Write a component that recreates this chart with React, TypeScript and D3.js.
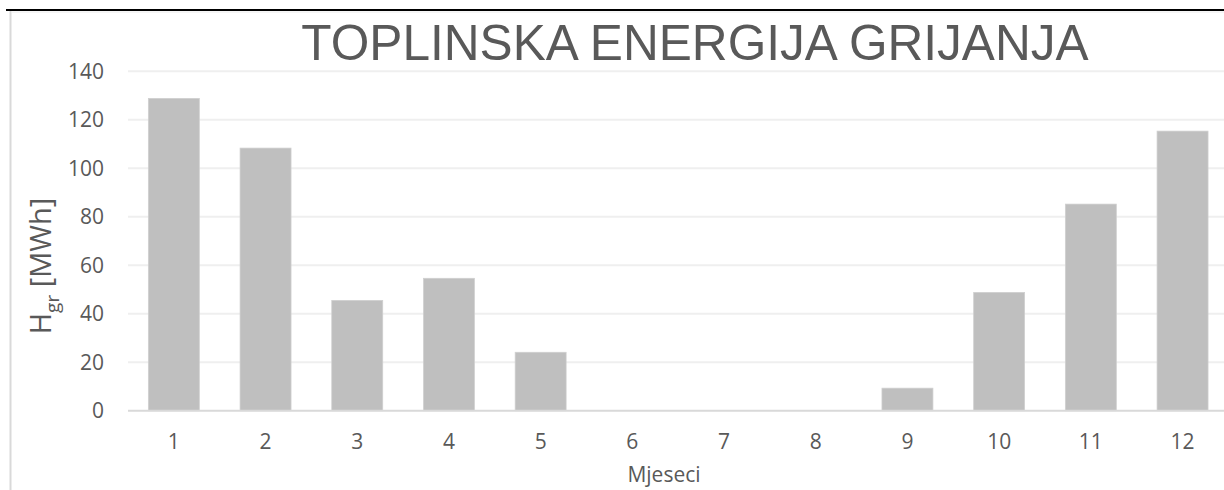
import React from "react";
import * as d3 from "d3";

const months: string[] = ["1", "2", "3", "4", "5", "6", "7", "8", "9", "10", "11", "12"];
const heatingMWh: number[] = [128.8, 108.3, 45.5, 54.6, 24.1, 0, 0, 0, 9.3, 48.8, 85.2, 115.3];
const yTicks: number[] = [0, 20, 40, 60, 80, 100, 120, 140];
const titleText = "TOPLINSKA ENERGIJA GRIJANJA";
const xAxisTitle = "Mjeseci";

export default function App() {
  const W = 1224;
  const H = 490;
  const plotLeft = 128;
  const plotRight = 1228.4;
  const plotTop = 71.2;
  const plotBottom = 410.7;

  const x = d3
    .scaleBand<string>()
    .domain(months)
    .range([plotLeft, plotRight])
    .paddingInner(0.444)
    .paddingOuter(0.222);
  const y = d3.scaleLinear().domain([0, 140]).range([plotBottom, plotTop]);

  const textColor = "#595959";
  const tickFont = "'Open Sans', 'Noto Sans', sans-serif";

  return (
    <svg
      width={W}
      height={H}
      style={{ position: "absolute", left: 0, top: 0, background: "#fff" }}
    >
      {/* page header line and chart border */}
      <line x1={6} x2={W} y1={10} y2={10} stroke="#000" strokeWidth={2} />
      <line x1={10.5} x2={10.5} y1={11} y2={H} stroke="#d9d9d9" strokeWidth={2} />
      <line x1={11} x2={W} y1={12} y2={12} stroke="#ececec" strokeWidth={1} />

      {/* gridlines */}
      {yTicks.filter((t) => t !== 0).map((t) => (
        <line
          key={"g" + t}
          x1={plotLeft}
          x2={W}
          y1={y(t)}
          y2={y(t)}
          stroke="#efefef"
          strokeWidth={2}
        />
      ))}

      {/* bars */}
      {months.map((m, i) => (
        <rect
          key={"b" + m}
          x={x(m)!}
          y={y(heatingMWh[i])}
          width={x.bandwidth()}
          height={plotBottom - y(heatingMWh[i])}
          fill="#bfbfbf"
          stroke="#d0d0d0"
          strokeWidth={0.75}
        />
      ))}

      {/* x axis line */}
      <line x1={plotLeft} x2={W} y1={plotBottom} y2={plotBottom} stroke="#d9d9d9" strokeWidth={2} />

      {/* y tick labels */}
      {yTicks.map((t) => (
        <text
          key={"yt" + t}
          x={104}
          y={y(t)}
          dy="0.36em"
          textAnchor="end"
          fontFamily={tickFont}
          fontSize={21}
          fill={textColor}
        >
          {t}
        </text>
      ))}

      {/* x tick labels */}
      {months.map((m) => (
        <text
          key={"xt" + m}
          x={x(m)! + x.bandwidth() / 2}
          y={449}
          textAnchor="middle"
          fontFamily={tickFont}
          fontSize={21}
          fill={textColor}
        >
          {m}
        </text>
      ))}

      {/* x axis title */}
      <text
        x={664}
        y={482}
        textAnchor="middle"
        fontFamily={tickFont}
        fontSize={21}
        fill={textColor}
      >
        {xAxisTitle}
      </text>

      {/* y axis title */}
      <text
        transform={`translate(51, 266) rotate(-90)`}
        textAnchor="middle"
        fontFamily={tickFont}
        fontSize={29}
        fill={textColor}
      >
        H
        <tspan fontSize={19} dy={8}>gr</tspan>
        <tspan dy={-8}> [MWh]</tspan>
      </text>

      {/* chart title */}
      <text
        x={695}
        y={60}
        textAnchor="middle"
        fontFamily="'Liberation Sans', Arial, sans-serif"
        fontSize={49.6}
        fill={textColor}
      >
        {titleText}
      </text>
    </svg>
  );
}
